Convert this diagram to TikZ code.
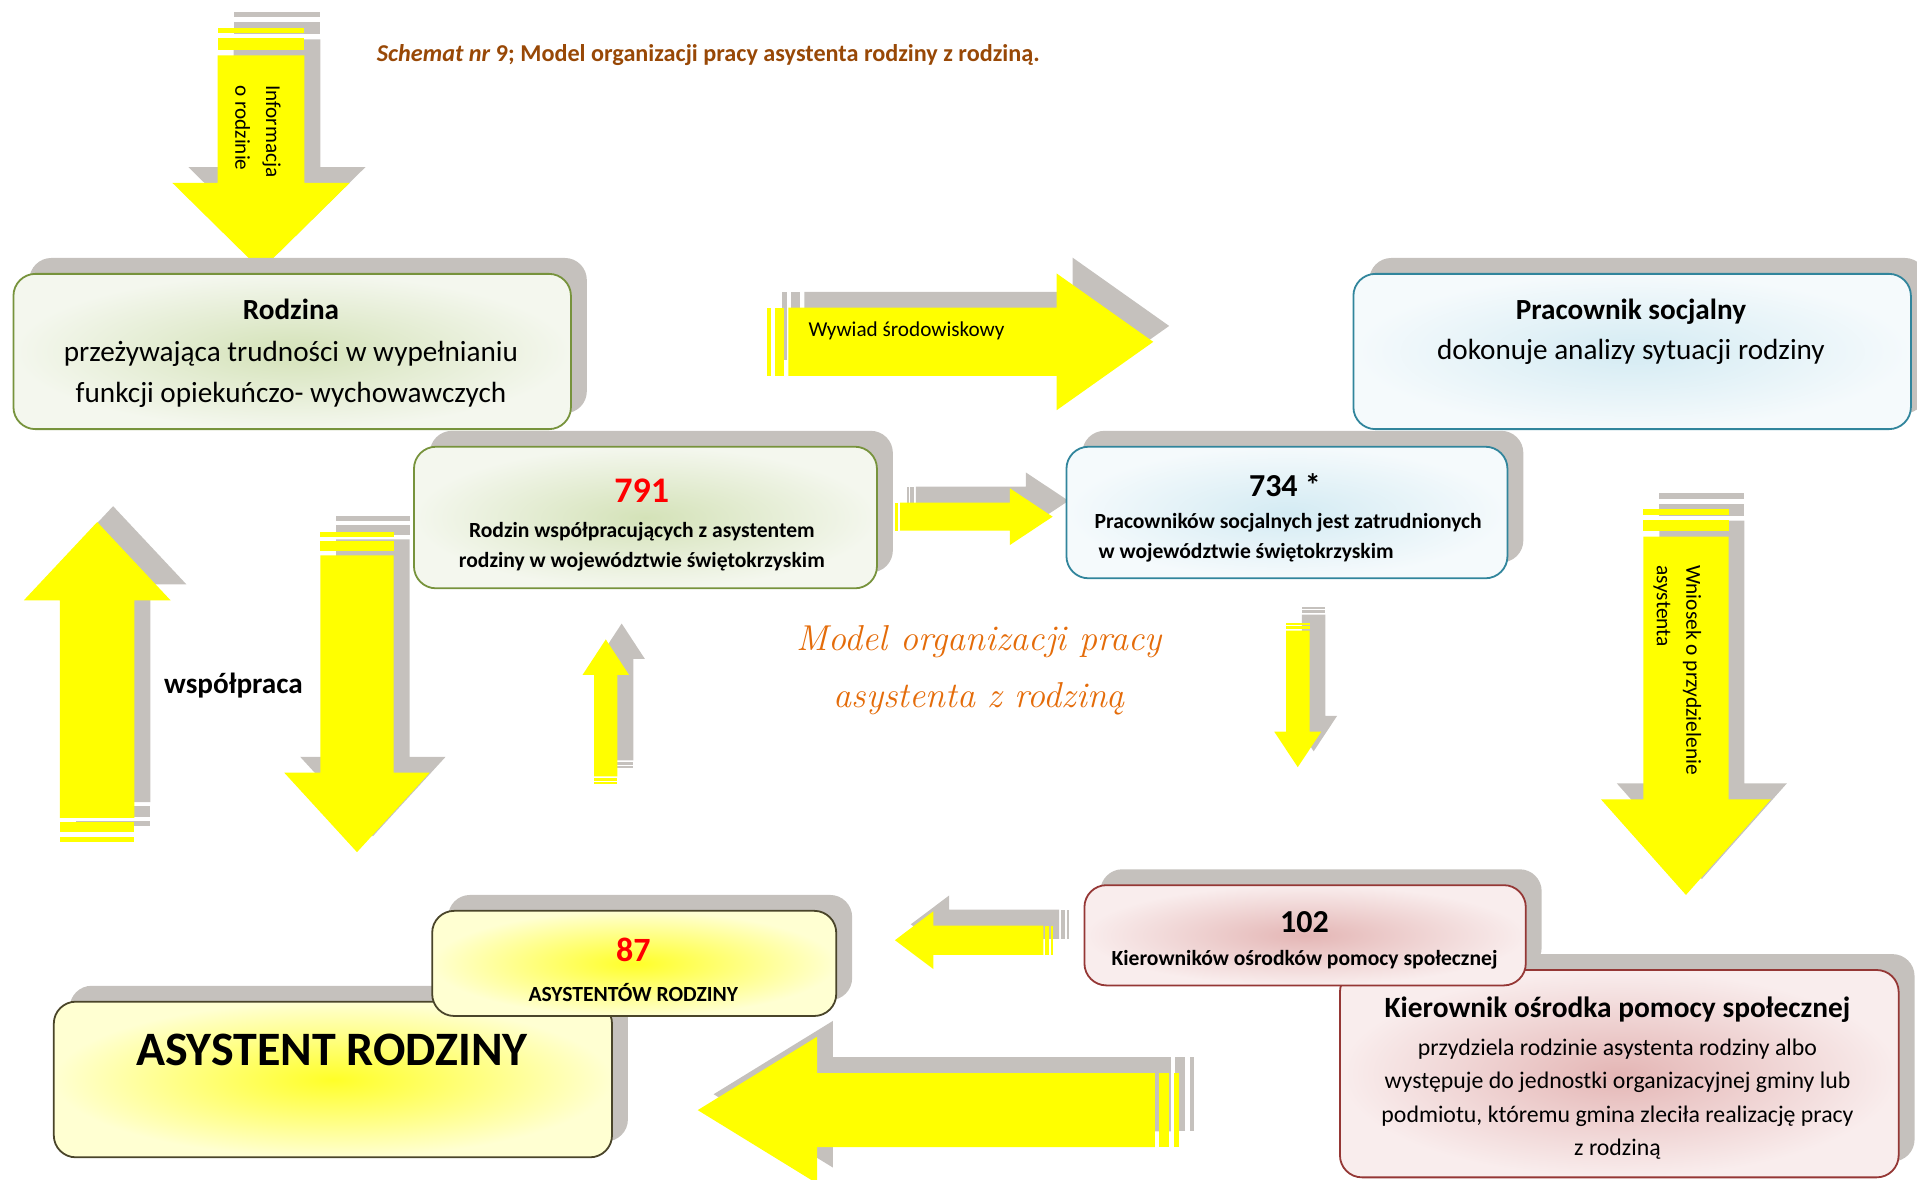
\documentclass[tikz,border=0pt]{standalone}
\usepackage{fontspec}
\newfontfamily\calibri{Carlito}
\usetikzlibrary{calc}

\definecolor{shadowgrey}{RGB}{197,193,189}
\definecolor{arrowyellow}{RGB}{255,255,0}
\definecolor{titlebrown}{RGB}{152,72,6}
\definecolor{modelorange}{RGB}{228,108,10}
\definecolor{greenedge}{RGB}{119,147,60}
\definecolor{greenglow}{RGB}{212,226,184}
\definecolor{greenpale}{RGB}{244,247,238}
\definecolor{blueedge}{RGB}{49,133,156}
\definecolor{blueglow}{RGB}{212,235,243}
\definecolor{bluepale}{RGB}{245,250,252}
\definecolor{rededge}{RGB}{149,55,53}
\definecolor{redglow}{RGB}{228,182,181}
\definecolor{redpale}{RGB}{249,237,237}
\definecolor{oliveedge}{RGB}{74,69,42}
\definecolor{yellowglow}{RGB}{255,255,40}
\definecolor{yellowpale}{RGB}{255,255,210}

\tikzset{
  greenbox/.style={draw=greenedge, inner color=greenglow, outer color=greenpale},
  bluebox/.style={draw=blueedge, inner color=blueglow, outer color=bluepale},
  redbox/.style={draw=rededge, inner color=redglow, outer color=redpale},
  yellowbox/.style={draw=oliveedge, inner color=yellowglow, outer color=yellowpale},
  boxtext/.style={inner sep=0pt, align=center},
  numred/.style={inner sep=0pt, text=red, font=\calibri\bfseries\fontsize{18}{20}\selectfont},
  numblack/.style={inner sep=0pt, font=\calibri\bfseries\fontsize{16}{18}\selectfont},
  smallbold/.style={inner sep=0pt, align=center, font=\calibri\bfseries\fontsize{10.8}{15}\selectfont},
  arrowtext/.style={inner sep=0pt, align=left, font=\calibri\fontsize{10.6}{15.3}\selectfont},
}

% tail stripes + shaft + head, pointing up or down
\newcommand\vstripes[6]{% x, half shaft, tail y, head y, half head, tip y
  \pgfmathsetmacro\stDir{sign(#6-#3)}
  \pgfmathsetmacro\stA{#3+\stDir*0.13*#2}
  \pgfmathsetmacro\stB{#3+\stDir*0.25*#2}
  \pgfmathsetmacro\stC{#3+\stDir*0.52*#2}
  \pgfmathsetmacro\stD{#3+\stDir*0.64*#2}
  \fill (#1-#2,#3) rectangle (#1+#2,\stA);
  \fill (#1-#2,\stB) rectangle (#1+#2,\stC);
  \fill (#1-#2,\stD) -- (#1-#2,#4) -- (#1-#5,#4) -- (#1,#6)
    -- (#1+#5,#4) -- (#1+#2,#4) -- (#1+#2,\stD) -- cycle;
}
% same, pointing left or right
\newcommand\hstripes[6]{% y, half shaft, tail x, head x, half head, tip x
  \pgfmathsetmacro\stDir{sign(#6-#3)}
  \pgfmathsetmacro\stA{#3+\stDir*0.13*#2}
  \pgfmathsetmacro\stB{#3+\stDir*0.25*#2}
  \pgfmathsetmacro\stC{#3+\stDir*0.52*#2}
  \pgfmathsetmacro\stD{#3+\stDir*0.64*#2}
  \fill (#3,#1-#2) rectangle (\stA,#1+#2);
  \fill (\stB,#1-#2) rectangle (\stC,#1+#2);
  \fill (\stD,#1-#2) -- (#4,#1-#2) -- (#4,#1-#5) -- (#6,#1)
    -- (#4,#1+#5) -- (#4,#1+#2) -- (\stD,#1+#2) -- cycle;
}
\newcommand\varrow[6]{
  \begin{scope}[shift={(13,-13)}, fill=shadowgrey] \vstripes{#1}{#2}{#3}{#4}{#5}{#6} \end{scope}
  \begin{scope}[fill=arrowyellow] \vstripes{#1}{#2}{#3}{#4}{#5}{#6} \end{scope}
}
\newcommand\harrow[6]{
  \begin{scope}[shift={(13,-13)}, fill=shadowgrey] \hstripes{#1}{#2}{#3}{#4}{#5}{#6} \end{scope}
  \begin{scope}[fill=arrowyellow] \hstripes{#1}{#2}{#3}{#4}{#5}{#6} \end{scope}
}
% rounded panel with its grey shadow
\newcommand\panel[5]{% x1, y1, x2, y2, style
  \fill[shadowgrey, rounded corners=11pt] (#1+13,#2-13) rectangle (#3+13,#4-13);
  \draw[#5, line width=0.9pt, rounded corners=11pt] (#1,#2) rectangle (#3,#4);
}

\begin{document}
\begin{tikzpicture}[x=0.6113pt, y=-0.6113pt]
  \useasboundingbox (0,0) rectangle (1568,965);
  \clip (0,0) rectangle (1568,965);

  \node[anchor=west, inner sep=0pt, text=titlebrown,
    font=\calibri\bfseries\fontsize{12.1}{14.5}\selectfont] (title) at (308,45)
    {\textit{Schemat nr} 9; Model organizacji pracy asystenta rodziny z rodziną.};

  % arrows
  \varrow{213.5}{35.5}{22.5}{149.6}{72.5}{221}
  \varrow{1379}{34.8}{416.6}{653.8}{69.5}{732}
  \varrow{1061.5}{9.6}{509.6}{598.5}{19.2}{627.5}
  \varrow{79.5}{30.5}{688.5}{491}{60}{427}
  \varrow{292}{30}{435}{632}{59.5}{697}
  \varrow{495.5}{9.5}{641}{552}{19}{523}
  \harrow{279.6}{27.9}{627}{864.3}{55.9}{943.3}
  \harrow{422.6}{11.5}{728.8}{826}{23.2}{861}
  \harrow{769}{12}{861}{763.4}{23.6}{732}
  \harrow{908}{30.3}{964}{668.3}{60}{570.7}

  \node[arrowtext, rotate=-90, anchor=west] (info) at (211,69.5)
    {Informacja\\o rodzinie};
  \node[arrowtext, anchor=west] (wywiad) at (661,271) {Wywiad środowiskowy};
  \node[arrowtext, rotate=-90, anchor=west,
    font=\calibri\fontsize{10.7}{14.7}\selectfont] (wniosek) at (1372,462)
    {Wniosek o przydzielenie\\asystenta};
  \node[inner sep=0pt, font=\calibri\bfseries\fontsize{14.6}{17}\selectfont]
    (wspolpraca) at (191,561) {współpraca};

  % panels
  \panel{11}{224}{467}{351}{greenbox}
  \panel{1107}{224}{1563}{351}{bluebox}
  \panel{338.6}{365.4}{717.3}{481.2}{greenbox}
  \panel{872.3}{365.4}{1233}{473}{bluebox}
  \panel{1096}{793.4}{1553}{963}{redbox}
  \panel{887}{724}{1248}{806}{redbox}
  \panel{44}{819.3}{500.6}{946.6}{yellowbox}
  \panel{353.5}{745}{684}{831}{yellowbox}

  \node[boxtext, font=\calibri\fontsize{14.6}{20.8}\selectfont] (rodzina) at (238,289)
    {\textbf{Rodzina}\\przeżywająca trudności w wypełnianiu\\funkcji opiekuńczo- wychowawczych};
  \node[boxtext, font=\calibri\fontsize{14.6}{20}\selectfont] (pracownik) at (1334,271)
    {\textbf{Pracownik socjalny}\\dokonuje analizy sytuacji rodziny};

  \node[numred] (n791) at (525,401) {791};
  \node[smallbold] (t791) at (525,447)
    {Rodzin współpracujących z asystentem\\rodziny w województwie świętokrzyskim};

  \node[numblack] (n734) at (1051,397) {734 *};
  \node[smallbold, align=left, anchor=west] (t734) at (895,440)
    {Pracowników socjalnych jest zatrudnionych\\\hspace{2pt}w województwie świętokrzyskim};

  \node[numblack] (n102) at (1067,754) {102};
  \node[smallbold] (t102) at (1067,785) {Kierowników ośrodków pomocy społecznej};

  \node[inner sep=0pt, font=\calibri\bfseries\fontsize{14.7}{17}\selectfont] (kierownik)
    at (1323,826) {Kierownik ośrodka pomocy społecznej};
  \node[boxtext, font=\calibri\fontsize{11.9}{16.8}\selectfont] (przydziela) at (1323,899)
    {przydziela rodzinie asystenta rodziny albo\\występuje do jednostki organizacyjnej gminy lub\\podmiotu, któremu gmina zleciła realizację pracy\\z rodziną};

  \node[numred, font=\calibri\bfseries\fontsize{17}{19}\selectfont] (n87) at (518,777) {87};
  \node[smallbold] (t87) at (518,812) {ASYSTENTÓW RODZINY};
  \node[inner sep=0pt, font=\calibri\bfseries\fontsize{24}{28}\selectfont] (asystent)
    at (271.5,859) {ASYSTENT RODZINY};

  \node[boxtext, text=modelorange, font=\itshape\fontsize{18}{28.5}\selectfont] (model)
    at (801,548) {Model organizacji pracy\\asystenta z rodziną};
\end{tikzpicture}
\end{document}
